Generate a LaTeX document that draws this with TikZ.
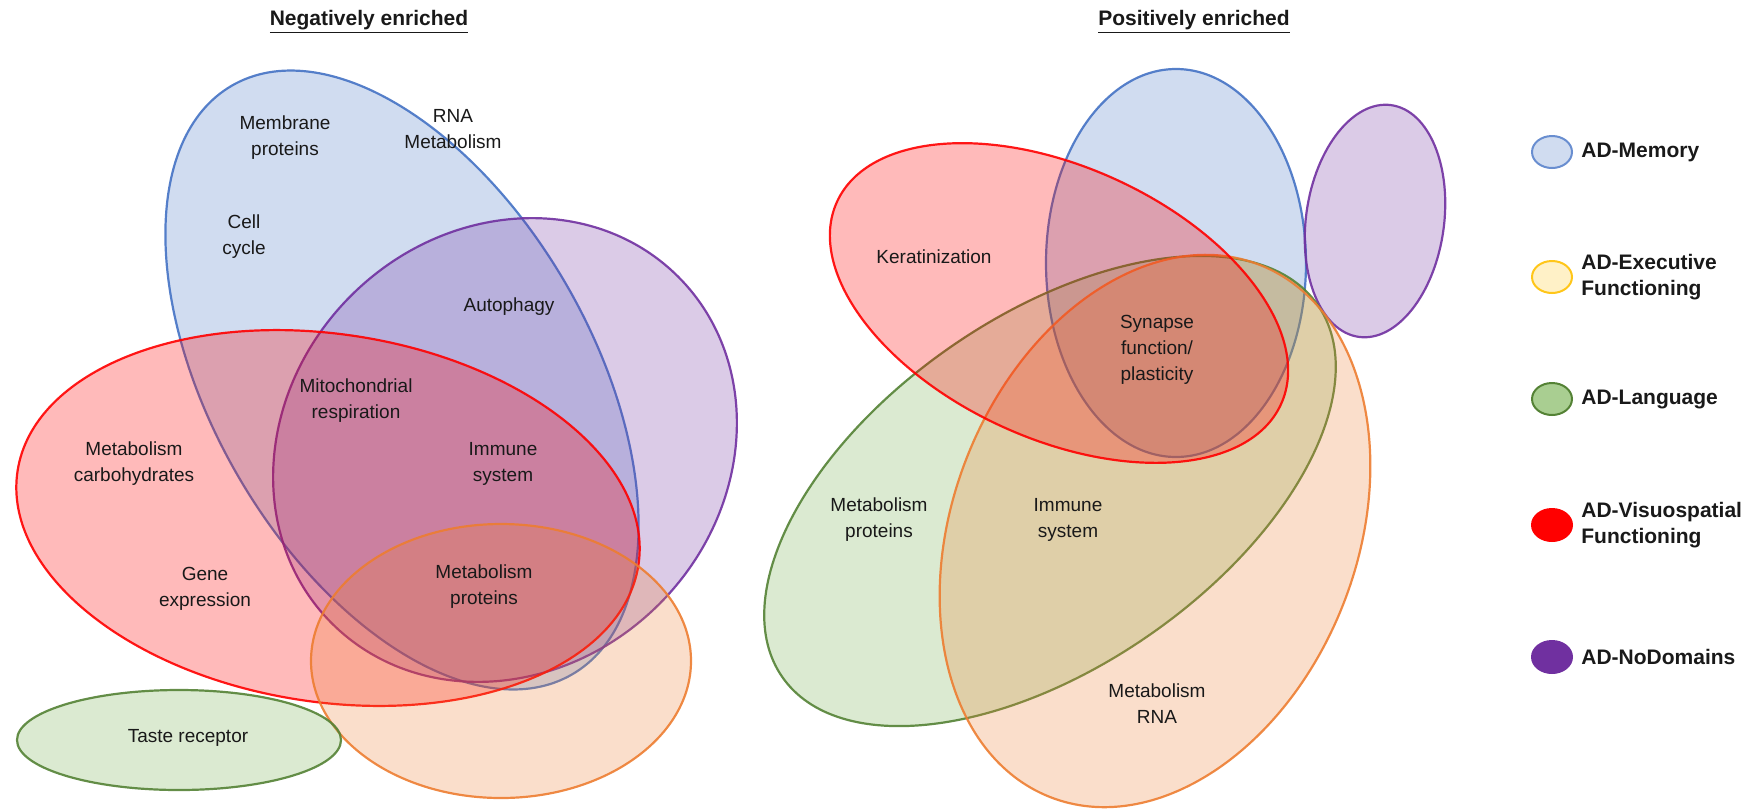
\documentclass[tikz,border=0pt]{standalone}
\usepackage{fontspec}
\setmainfont{Liberation Sans}
\usetikzlibrary{positioning,shapes.geometric}

\definecolor{memblue}{RGB}{68,114,196}
\definecolor{execorange}{RGB}{237,125,49}
\definecolor{langgreen}{RGB}{84,130,53}
\definecolor{langfill}{RGB}{112,173,71}
\definecolor{visred}{RGB}{255,0,0}
\definecolor{nodpurple}{RGB}{112,48,160}
\definecolor{execyellow}{RGB}{255,192,0}
\definecolor{labtext}{RGB}{25,25,25}

\begin{document}
\begin{tikzpicture}[x=0.5pt, y=-0.5pt,
    every node/.style={font=\fontsize{9.5}{13}\selectfont, text=labtext, align=center},
    venn/.style={line width=1.1pt, draw opacity=.9, fill opacity=.25},
    mem/.style={venn, draw=memblue, fill=memblue},
    exec/.style={venn, draw=execorange, fill=execorange},
    lang/.style={venn, draw=langgreen, fill=langfill},
    vis/.style={venn, draw=visred, fill=visred, fill opacity=.27},
    nod/.style={venn, draw=nodpurple, fill=nodpurple},
    heading/.style={font=\fontsize{10.5}{13}\selectfont\bfseries, anchor=base},
    legdot/.style={ellipse, minimum width=20pt, minimum height=16pt, inner sep=0pt, line width=1pt},
    legtext/.style={font=\fontsize{10.5}{13}\selectfont\bfseries, align=left, inner sep=0pt}]

  \useasboundingbox (0,0) rectangle (1753,811);

  % negatively enriched
  \filldraw[mem, rotate around={-60:(402,380)}] (402,380) ellipse [x radius=340, y radius=190];
  \filldraw[nod, rotate around={45:(505,450)}] (505,450) ellipse [x radius=245, y radius=218];
  \filldraw[vis, rotate around={-8.6:(328,518)}] (328,518) ellipse [x radius=314, y radius=184];
  \filldraw[exec] (501,661) ellipse [x radius=190, y radius=137];
  \filldraw[lang] (179,740) ellipse [x radius=162, y radius=50];

  % positively enriched
  \filldraw[mem] (1176,263) ellipse [x radius=130, y radius=194];
  \filldraw[nod, rotate around={-8:(1375,221)}] (1375,221) ellipse [x radius=69, y radius=117];
  \filldraw[lang, rotate around={34.8:(1050,491)}] (1050,491) ellipse [x radius=326, y radius=175];
  \filldraw[exec, rotate around={68.4:(1155,531)}] (1155,531) ellipse [x radius=286, y radius=202];
  \filldraw[vis, rotate around={-24.5:(1059,303)}] (1059,303) ellipse [x radius=244, y radius=136];

  \node (negtitle) [heading] at (369,25) {\underline{Negatively enriched}};
  \node (postitle) [heading] at (1194,25) {\underline{Positively enriched}};

  \node (membrane) at (285,138) {Membrane\\proteins};
  \node (rnamet) at (453,129) {RNA\\Metabolism};
  \node (cellcyc) at (244,237) {Cell\\cycle};
  \node (autoph) at (509,307) {Autophagy};
  \node (mito) at (356,401) {Mitochondrial\\respiration};
  \node (carbs) at (134,464) {Metabolism\\carbohydrates};
  \node (immuneL) at (503,464) {Immune\\system};
  \node (geneexp) at (205,589) {Gene\\expression};
  \node (protL) at (484,587) {Metabolism\\proteins};
  \node (taste) at (188,738) {Taste receptor};

  \node (kerat) at (934,257) {Keratinization};
  \node (synapse) at (1157,350) {Synapse\\function/\\plasticity};
  \node (protR) at (879,520) {Metabolism\\proteins};
  \node (immuneR) at (1068,520) {Immune\\system};
  \node (rnaR) at (1157,704) {Metabolism\\RNA};

  % legend
  \node (dmem) [legdot, draw=memblue!80, fill=memblue!25] at (1552,152) {};
  \node (dexec) [legdot, draw=execyellow!90, fill=execyellow!22] at (1552,277) {};
  \node (dlang) [legdot, draw=langgreen, fill=langfill!60] at (1552,399) {};
  \node (dvis) [legdot, draw=visred, fill=visred] at (1552,525) {};
  \node (dnod) [legdot, draw=nodpurple, fill=nodpurple] at (1552,657) {};

  \node (tmem) [legtext, right=4pt of dmem] {AD-Memory};
  \node (texec) [legtext, right=4pt of dexec] {AD-Executive\\Functioning};
  \node (tlang) [legtext, right=4pt of dlang] {AD-Language};
  \node (tvis) [legtext, right=4pt of dvis] {AD-Visuospatial\\Functioning};
  \node (tnod) [legtext, right=4pt of dnod] {AD-NoDomains};
\end{tikzpicture}
\end{document}
